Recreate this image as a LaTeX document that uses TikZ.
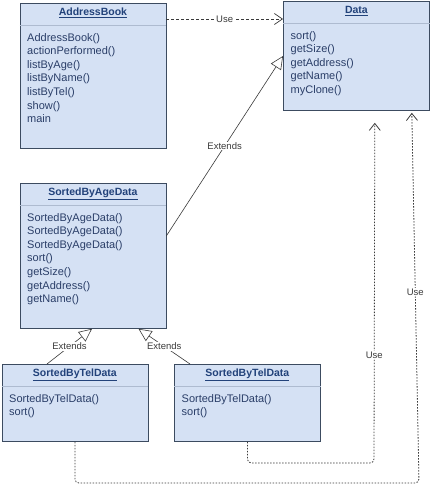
\documentclass[tikz,border=0pt]{standalone}
\usepackage{fontspec}
\setmainfont{Liberation Sans}
\usetikzlibrary{arrows.meta,calc}

\definecolor{boxfill}{HTML}{D5E1F4}
\definecolor{boxedge}{HTML}{3C4B60}
\definecolor{sepline}{HTML}{AEBBD0}
\definecolor{titlecol}{HTML}{22427A}
\definecolor{methcol}{HTML}{2A3E68}
\definecolor{linkcol}{HTML}{3A3A3A}

\tikzset{
  classbox/.style={draw=boxedge, fill=boxfill, line width=0.8pt, anchor=north west, inner sep=0pt},
  classtitle/.style={font=\fontsize{10.5}{12}\selectfont\bfseries, text=titlecol, inner sep=0pt, anchor=base},
  methods/.style={font=\fontsize{11}{13.6}\selectfont, text=methcol, align=left, anchor=north west, inner sep=0pt},
  sep/.style={draw=sepline, line width=0.8pt},
  usedep/.style={draw=linkcol, dash pattern=on 3pt off 2pt, line width=0.7pt, -{Straight Barb[length=8pt,width=11pt]}},
  usedot/.style={draw=linkcol, dash pattern=on 1.5pt off 1.5pt, line width=0.8pt, rounded corners=4pt, -{Straight Barb[length=7pt,width=11pt]}},
  extends/.style={draw=linkcol, line width=0.6pt, -{Triangle[open, fill=white, length=13pt, width=12pt]}},
  linklabel/.style={font=\fontsize{9.5}{11}\selectfont, text=linkcol, fill=white, inner sep=1pt},
}

% one UML class: #1 name, #2 position, #3 height, #4 title, #5 operations
\newcommand{\umlclass}[5]{%
  \node[classbox, minimum width=146pt, minimum height=#3pt] (#1) at #2 {};
  \draw[sep] ([yshift=-22.5pt]#1.north west) -- ([yshift=-22.5pt]#1.north east);
  \node[classtitle] (#1-t) at ([yshift=-12.8pt]#1.north) {\underline{#4}};
  \node[methods] (#1-m) at ([xshift=7.5pt,yshift=-30pt]#1.north west) {#5};
}

\begin{document}
\begin{tikzpicture}[x=1pt,y=-1pt]
  \useasboundingbox[fill=white] (0,0) rectangle (433,500);

  \umlclass{ab}{(19.5,3)}{145}{AddressBook}{AddressBook()\\actionPerformed()\\listByAge()\\listByName()\\listByTel()\\show()\\main}
  \umlclass{data}{(283,1)}{109}{Data}{sort()\\getSize()\\getAddress()\\getName()\\myClone()}
  \umlclass{sa}{(19.5,183)}{145}{SortedByAgeData}{SortedByAgeData()\\SortedByAgeData()\\SortedByAgeData()\\sort()\\getSize()\\getAddress()\\getName()}
  \umlclass{tel1}{(1.5,364)}{77}{SortedByTelData}{SortedByTelData()\\sort()}
  \umlclass{tel2}{(174,364)}{77}{SortedByTelData}{SortedByTelData()\\sort()}

  % dependency from AddressBook to Data
  \draw[usedep] ([yshift=-16pt]ab.north east) -- ([yshift=-18pt]data.north west)
    node[midway, linklabel] {Use};

  % generalisations
  \draw[extends] ([yshift=-53pt]sa.north east) -- ([yshift=-55pt]data.north west)
    node[midway, linklabel] {Extends};
  \draw[extends] ([xshift=45.5pt]tel1.north west) -- ([xshift=72.5pt]sa.south west)
    node[midway, linklabel] {Extends};
  \draw[extends] ([xshift=16pt]tel2.north west) -- ([xshift=119pt]sa.south west)
    node[midway, linklabel] {Extends};

  % dependencies from the telephone-sorted classes to Data
  \coordinate (c1) at (419,483);
  \coordinate (c2) at (374,463);
  \draw[usedot] (tel1.south) |- (c1) -- ([xshift=-18pt,yshift=-2pt]data.south east)
    node[pos=0.515, linklabel] {Use};
  \draw[usedot] (tel2.south) |- (c2) -- ([xshift=-55pt,yshift=-12pt]data.south east)
    node[pos=0.317, linklabel] {Use};
\end{tikzpicture}
\end{document}
